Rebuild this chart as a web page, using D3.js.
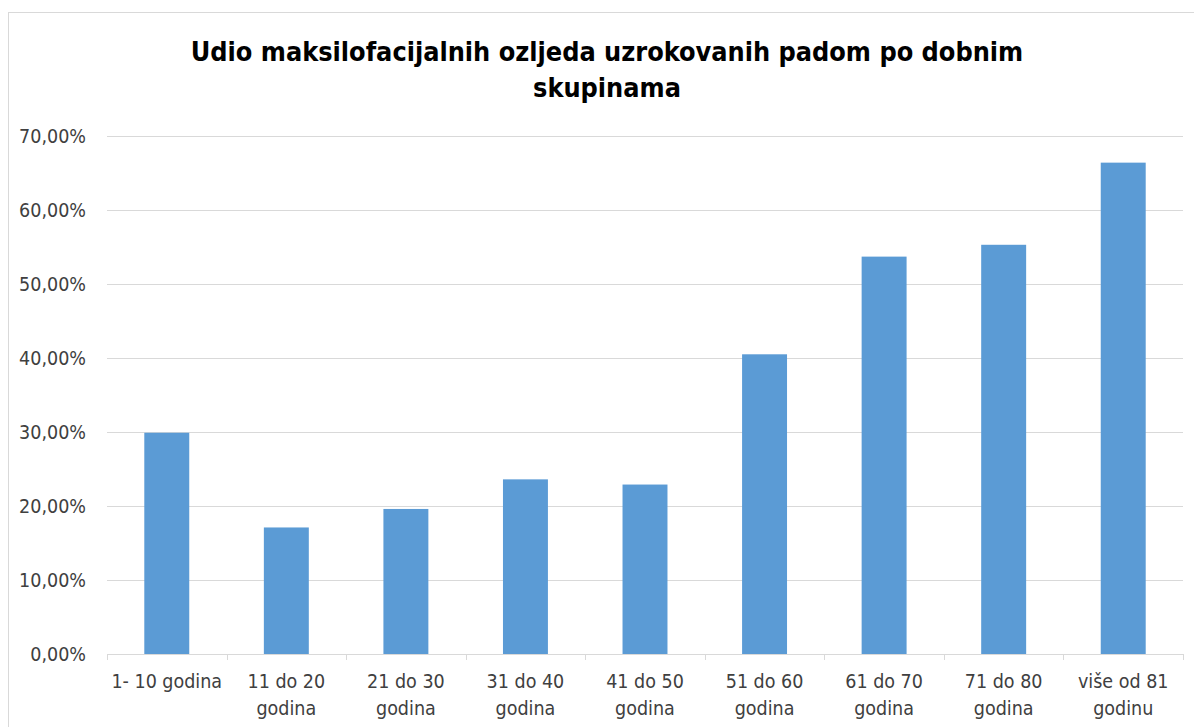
<!DOCTYPE html>
<html>
<head>
<meta charset="utf-8">
<script src="https://cdn.jsdelivr.net/npm/d3@7"></script>
<style>
  body { margin: 0; background: #fff; }
  svg { display: block; }
</style>
</head>
<body>
<script>
// chart values
const categories = ["1- 10 godina", "11 do 20 godina", "21 do 30 godina", "31 do 40 godina",
  "41 do 50 godina", "51 do 60 godina", "61 do 70 godina", "71 do 80 godina", "više od 81 godinu"]
const values = [29.9, 17.1, 19.6, 23.6, 22.9, 40.5, 53.7, 55.3, 66.4]
const yTicks = [0, 10, 20, 30, 40, 50, 60, 70]
const titleLines = ["Udio maksilofacijalnih ozljeda uzrokovanih padom po dobnim", "skupinama"]

// canvas and plot area
const width = 1194,
  height = 727,
  plotLeft = 107,
  plotRight = 1183,
  plotTop = 136,
  plotBottom = 654

const labelFont = "'DejaVu Sans Condensed', 'Liberation Sans Narrow', sans-serif"
const textColor = "#404040"

const xScale = d3.scaleBand()
  .domain(categories)
  .range([plotLeft, plotRight])
  .paddingInner(0.624)
  .paddingOuter(0.312)

const yScale = d3.scaleLinear()
  .domain([0, 70])
  .range([plotBottom, plotTop])

const svg = d3.select("body")
  .append("svg")
  .attr("width", width)
  .attr("height", height)

// outer chart border (runs off the right and bottom of the picture)
svg.append("rect")
  .attr("x", 8.5)
  .attr("y", 12.5)
  .attr("width", width + 20)
  .attr("height", height + 20)
  .attr("fill", "#fff")
  .attr("stroke", "#d9d9d9")

// title, two lines
svg.append("g")
  .selectAll("text")
  .data(titleLines)
  .enter()
  .append("text")
  .attr("x", 607)
  .attr("y", (d, i) => 61 + i * 36)
  .attr("text-anchor", "middle")
  .attr("font-family", labelFont)
  .attr("font-weight", "bold")
  .attr("font-size", 26.8)
  .attr("fill", "#000")
  .text(d => d)

// gridlines + y labels
const yAxis = d3.axisLeft(yScale)
  .tickValues(yTicks)
  .tickSize(-(plotRight - plotLeft))
  .tickPadding(21)
  .tickFormat(d => d.toFixed(2).replace(".", ",") + "%")

svg.append("g")
  .attr("transform", `translate(${plotLeft},0)`)
  .call(yAxis)
  .call(g => g.select(".domain").remove())
  .call(g => g.selectAll(".tick line").attr("stroke", "#d9d9d9"))
  .call(g => g.selectAll(".tick text")
    .attr("font-family", labelFont)
    .attr("font-size", 19.5)
    .attr("fill", textColor))

// bars
svg.append("g")
  .selectAll("rect")
  .data(values)
  .enter()
  .append("rect")
  .attr("x", (d, i) => xScale(categories[i]))
  .attr("y", d => yScale(d))
  .attr("width", xScale.bandwidth())
  .attr("height", d => plotBottom - yScale(d))
  .attr("fill", "#5b9bd5")

// category axis: baseline and tick marks between categories
const step = xScale.step()
const boundaries = d3.range(categories.length + 1).map(i => plotLeft + i * step)

svg.append("line")
  .attr("x1", plotLeft)
  .attr("x2", plotRight)
  .attr("y1", plotBottom + 0.5)
  .attr("y2", plotBottom + 0.5)
  .attr("stroke", "#d9d9d9")

svg.append("g")
  .selectAll("line")
  .data(boundaries)
  .enter()
  .append("line")
  .attr("x1", d => Math.round(d) + 0.5)
  .attr("x2", d => Math.round(d) + 0.5)
  .attr("y1", plotBottom)
  .attr("y2", plotBottom + 6)
  .attr("stroke", "#d9d9d9")

// category labels, wrapped into two lines like the original
const splitLabel = d => {
  if (d === "1- 10 godina") return [d]
  const words = d.split(" ")
  return [words.slice(0, -1).join(" "), words[words.length - 1]]
}

const xLabels = svg.append("g")
  .selectAll("text")
  .data(categories)
  .enter()
  .append("text")
  .attr("text-anchor", "middle")
  .attr("font-family", labelFont)
  .attr("font-size", 19.5)
  .attr("fill", textColor)
  .attr("x", d => xScale(d) + xScale.bandwidth() / 2)
  .attr("y", 688)

xLabels.selectAll("tspan")
  .data(d => splitLabel(d))
  .enter()
  .append("tspan")
  .attr("x", function () { return this.parentNode.getAttribute("x") })
  .attr("dy", (d, i) => i === 0 ? 0 : 27)
  .text(d => d)
</script>
</body>
</html>
